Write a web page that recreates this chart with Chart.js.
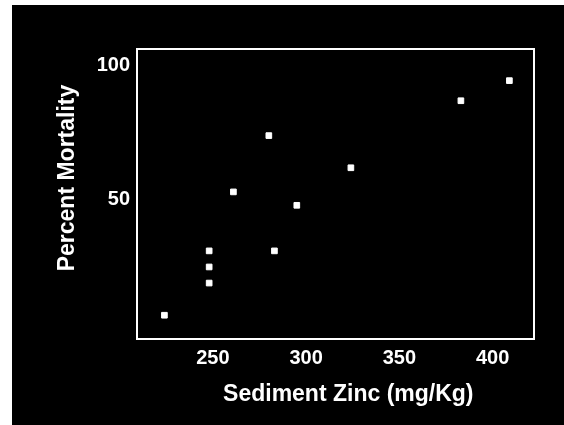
<!DOCTYPE html>
<html>
<head>
<meta charset="utf-8">
<script src="https://cdn.jsdelivr.net/npm/chart.js@4/dist/chart.umd.min.js"></script>
<style>
    html, body { margin: 0; padding: 0; background: #fff; }
    #panel { position: absolute; left: 12px; top: 5px; width: 552px; height: 420px; background: #000; }
</style>
</head>
<body>
<div id="panel"><canvas id="zinc" width="552" height="420"></canvas></div>
<script>
// values
const zinc = [224, 248, 248, 248, 261, 280, 283, 295, 324, 383, 409]
const mortality = [7, 31, 25, 19, 53, 74, 31, 48, 62, 87, 94.5]
const xTicks = [250, 300, 350, 400]
const yTicks = [50, 100]

const points = zinc.map((x, i) => ({ x: x, y: mortality[i] }))

// white frame round the plot area
const frame = {
    id: 'frame',
    afterDraw(chart) {
        const { ctx, chartArea: a } = chart
        ctx.save()
        ctx.strokeStyle = '#fff'
        ctx.lineWidth = 2
        ctx.strokeRect(a.left, a.top, a.right - a.left, a.bottom - a.top)
        ctx.restore()
    }
}

const font = 'Liberation Sans, Arial, sans-serif'

new Chart(document.getElementById('zinc').getContext('2d'), {
    type: 'scatter',
    data: {
        datasets: [{
            data: points,
            pointStyle: 'rect',
            pointRadius: 4,
            backgroundColor: '#fff',
            borderColor: '#fff',
            borderWidth: 1
        }]
    },
    options: {
        responsive: false,
        animation: false,
        events: [],
        layout: { padding: { top: 44, right: 30, left: 0, bottom: 0 } },
        plugins: { legend: { display: false }, tooltip: { enabled: false } },
        scales: {
            x: {
                type: 'linear',
                min: 209.3,
                max: 422.2,
                grid: { display: false, drawTicks: false },
                border: { display: false },
                afterBuildTicks: (s) => { s.ticks = xTicks.map(v => ({ value: v })) },
                afterFit: (s) => { s.height = 86 },
                ticks: {
                    color: '#fff',
                    padding: 7,
                    maxRotation: 0,
                    font: { family: font, size: 20, weight: 'bold' }
                },
                title: {
                    display: true,
                    text: '    Sediment Zinc (mg/Kg)',
                    color: '#fff',
                    padding: { top: 0, bottom: 17 },
                    font: { family: font, size: 23, weight: 'bold' }
                }
            },
            y: {
                min: -1.87,
                max: 106.3,
                grid: { display: false, drawTicks: false },
                border: { display: false },
                afterBuildTicks: (s) => { s.ticks = yTicks.map(v => ({ value: v })) },
                afterFit: (s) => { s.width = 125 },
                ticks: {
                    color: '#fff',
                    padding: 7,
                    font: { family: font, size: 20, weight: 'bold' }
                },
                title: {
                    display: true,
                    text: '     Percent Mortality',
                    color: '#fff',
                    padding: { top: 42, bottom: 0 },
                    font: { family: font, size: 23, weight: 'bold' }
                }
            }
        }
    },
    plugins: [frame]
})
</script>
</body>
</html>
